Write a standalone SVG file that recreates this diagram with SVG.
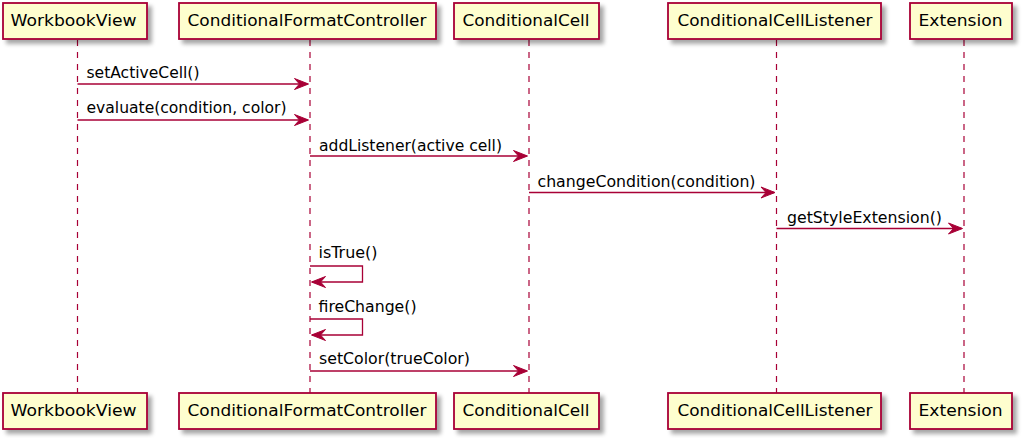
<svg xmlns="http://www.w3.org/2000/svg" width="1024" height="438" viewBox="0 0 1024 438">
<style>
.box{fill:#FEFECE;stroke:#A80036;stroke-width:1.8;filter:url(#sh)}
.pt{font-family:"DejaVu Sans",sans-serif;font-size:16px;fill:#000}
.life{stroke:#A80036;stroke-width:1.2;stroke-dasharray:6,6;fill:none}
.msg{stroke:#A80036;stroke-width:1.3;fill:none}
.ah{fill:#A80036;stroke:#A80036;stroke-width:1}
.ml{font-family:"DejaVu Sans",sans-serif;font-size:16px;fill:#000}
</style>
<defs>
<filter id="sh" x="-10%" y="-20%" width="130%" height="160%">
<feGaussianBlur in="SourceAlpha" stdDeviation="2"/>
<feOffset dx="4" dy="4" result="b"/>
<feComponentTransfer><feFuncA type="linear" slope="0.35"/></feComponentTransfer>
<feMerge><feMergeNode/><feMergeNode in="SourceGraphic"/></feMerge>
</filter>
</defs>
<rect width="1024" height="438" fill="#FFFFFF"/>
<g id="lifelines">
<line class="life" x1="77.5" y1="40" x2="77.5" y2="393"/>
<line class="life" x1="310" y1="40" x2="310" y2="393"/>
<line class="life" x1="529" y1="40" x2="529" y2="393"/>
<line class="life" x1="776.5" y1="40" x2="776.5" y2="393"/>
<line class="life" x1="964" y1="40" x2="964" y2="393"/>
</g>
<g id="WorkbookView">
<rect class="box" x="3" y="3" width="144" height="36"/>
<text class="pt" x="10.5" y="26" textLength="126" lengthAdjust="spacingAndGlyphs">WorkbookView</text>
<rect class="box" x="3" y="393" width="144" height="36"/>
<text class="pt" x="10.5" y="416" textLength="126" lengthAdjust="spacingAndGlyphs">WorkbookView</text>
</g>
<g id="ConditionalFormatController">
<rect class="box" x="179" y="3" width="257" height="36"/>
<text class="pt" x="187.5" y="26" textLength="239" lengthAdjust="spacingAndGlyphs">ConditionalFormatController</text>
<rect class="box" x="179" y="393" width="257" height="36"/>
<text class="pt" x="187.5" y="416" textLength="239" lengthAdjust="spacingAndGlyphs">ConditionalFormatController</text>
</g>
<g id="ConditionalCell">
<rect class="box" x="454" y="3" width="145" height="36"/>
<text class="pt" x="462.5" y="26" textLength="127" lengthAdjust="spacingAndGlyphs">ConditionalCell</text>
<rect class="box" x="454" y="393" width="145" height="36"/>
<text class="pt" x="462.5" y="416" textLength="127" lengthAdjust="spacingAndGlyphs">ConditionalCell</text>
</g>
<g id="ConditionalCellListener">
<rect class="box" x="668" y="3" width="213" height="36"/>
<text class="pt" x="677.5" y="26" textLength="195" lengthAdjust="spacingAndGlyphs">ConditionalCellListener</text>
<rect class="box" x="668" y="393" width="213" height="36"/>
<text class="pt" x="677.5" y="416" textLength="195" lengthAdjust="spacingAndGlyphs">ConditionalCellListener</text>
</g>
<g id="Extension">
<rect class="box" x="910" y="3" width="102" height="36"/>
<text class="pt" x="918.5" y="26" textLength="84" lengthAdjust="spacingAndGlyphs">Extension</text>
<rect class="box" x="910" y="393" width="102" height="36"/>
<text class="pt" x="918.5" y="416" textLength="84" lengthAdjust="spacingAndGlyphs">Extension</text>
</g>
<g id="connectors">
<line class="msg" x1="77.5" y1="84" x2="307" y2="84"/>
<polygon class="ah" points="294.5,78.5 308.5,84 294.5,89.5 299.5,84"/>
<text class="ml" x="86.5" y="77.7" textLength="113" lengthAdjust="spacingAndGlyphs">setActiveCell()</text>

<line class="msg" x1="77.5" y1="120" x2="307" y2="120"/>
<polygon class="ah" points="294.5,114.5 308.5,120 294.5,125.5 299.5,120"/>
<text class="ml" x="86.5" y="112.5" textLength="200" lengthAdjust="spacingAndGlyphs">evaluate(condition, color)</text>

<line class="msg" x1="310" y1="156" x2="526" y2="156"/>
<polygon class="ah" points="513.5,150.5 527.5,156 513.5,161.5 518.5,156"/>
<text class="ml" x="319" y="150.5" textLength="183" lengthAdjust="spacingAndGlyphs">addListener(active cell)</text>

<line class="msg" x1="529" y1="192.5" x2="774" y2="192.5"/>
<polygon class="ah" points="761,187 775,192.5 761,198 766,192.5"/>
<text class="ml" x="537.5" y="186.7" textLength="218" lengthAdjust="spacingAndGlyphs">changeCondition(condition)</text>

<line class="msg" x1="776.5" y1="228.5" x2="961.5" y2="228.5"/>
<polygon class="ah" points="948.5,223 962.5,228.5 948.5,234 953.5,228.5"/>
<text class="ml" x="787" y="222.7" textLength="155" lengthAdjust="spacingAndGlyphs">getStyleExtension()</text>

<polyline class="msg" points="310,266 362.5,266 362.5,282 312,282"/>
<polygon class="ah" points="325.5,276.5 311.5,282 325.5,287.5 320.5,282"/>
<text class="ml" x="318.5" y="258.3" textLength="59" lengthAdjust="spacingAndGlyphs">isTrue()</text>

<polyline class="msg" points="310,319 362.5,319 362.5,335 312,335"/>
<polygon class="ah" points="325.5,329.5 311.5,335 325.5,340.5 320.5,335"/>
<text class="ml" x="318.5" y="311.7" textLength="98" lengthAdjust="spacingAndGlyphs">fireChange()</text>

<line class="msg" x1="310" y1="371" x2="526" y2="371"/>
<polygon class="ah" points="513.5,365.5 527.5,371 513.5,376.5 518.5,371"/>
<text class="ml" x="319" y="363.5" textLength="151" lengthAdjust="spacingAndGlyphs">setColor(trueColor)</text>
</g>
</svg>
